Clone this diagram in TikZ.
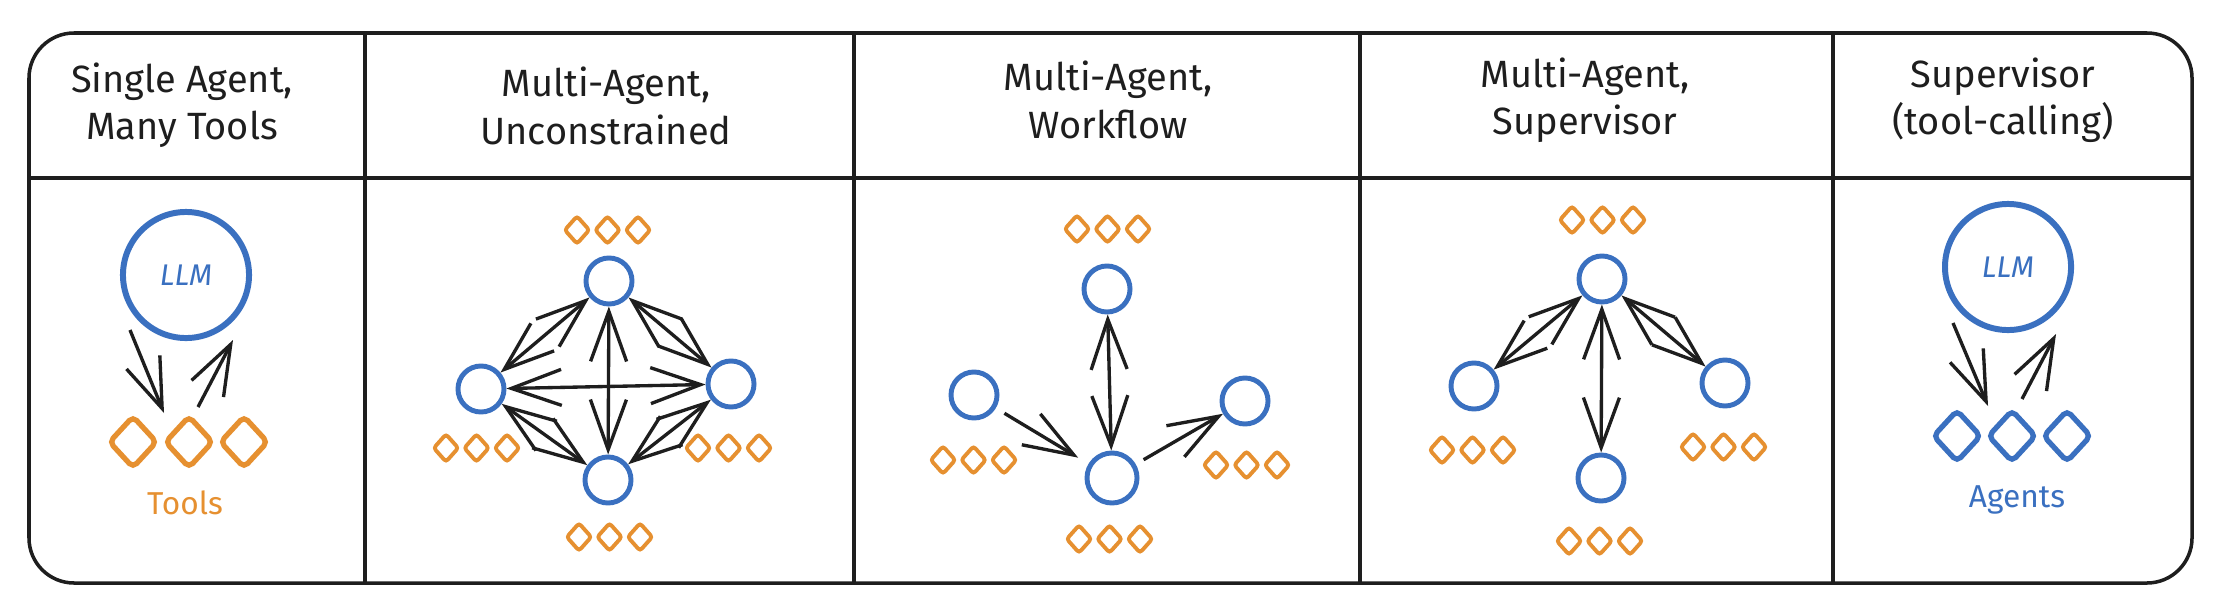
\documentclass[tikz,border=0pt]{standalone}
\usepackage{fontspec}
\setmainfont{Fira Sans}
\usetikzlibrary{shapes.geometric, arrows.meta}

\definecolor{agentblue}{HTML}{3A70C0}
\definecolor{toolorange}{HTML}{E69030}
\definecolor{inkgray}{HTML}{1E1E1E}

\tikzset{
  frame/.style={draw=inkgray, line width=1pt},
  title/.style={align=center, text=inkgray, font=\fontsize{10.8}{13.5}\selectfont},
  agent/.style={circle, draw=agentblue, line width=1.4pt, minimum size=0.46cm, inner sep=0pt},
  llm/.style={circle, draw=agentblue, line width=1.7pt, minimum size=1.26cm, inner sep=0pt,
    text=agentblue, font=\fontsize{8.5}{10}\selectfont\itshape},
  tool/.style={diamond, draw=toolorange, line width=1.1pt, minimum width=0.26cm,
    minimum height=0.29cm, inner sep=0pt, rounded corners=0.8pt},
  bigtool/.style={diamond, line width=1.5pt, minimum width=0.49cm, minimum height=0.53cm,
    inner sep=0pt, rounded corners=1.5pt},
  barb/.tip={Straight Barb[length=0.5cm, width=0.36cm]},
  arr/.style={draw=inkgray, line width=0.95pt, -barb},
  biarr/.style={arr, barb-barb},
}

\begin{document}
\begin{tikzpicture}[x=0.01cm, y=-0.01cm]
  \fill[white] (0,0) rectangle (2228,612);

  % frame and columns
  \draw[frame, rounded corners=0.45cm] (29,33) rectangle (2192,583);
  \draw[frame] (29,178) -- (2192,178);
  \foreach \x in {365,854,1360,1833}
    \draw[frame] (\x,33) -- (\x,583);

  \node[title] (head1) at (182,105) {Single Agent,\\Many Tools};
  \node[title] (head2) at (606,106) {Multi-Agent,\\Unconstrained};
  \node[title] (head3) at (1108,100) {Multi-Agent,\\Workflow};
  \node[title] (head4) at (1585,100) {Multi-Agent,\\Supervisor};
  \node[title] (head5) at (2003,100) {Supervisor\\(tool-calling)};

  % single agent, many tools
  \node[llm] (llm1) at (186,275) {LLM};
  \node[bigtool, draw=toolorange] (tool1a) at (133,442) {};
  \node[bigtool, draw=toolorange] (tool1b) at (189,442) {};
  \node[bigtool, draw=toolorange] (tool1c) at (244,442) {};
  \node[text=toolorange, font=\fontsize{9}{11}\selectfont] (tools1) at (185,503) {Tools};
  \draw[arr] ([shift={(-56,55)}]llm1.center) -- ([shift={(-25,-29)}]tool1b.center);
  \draw[arr] ([shift={(9,-35)}]tool1b.center) -- ([shift={(47,65)}]llm1.center);

  % tool rows
  \foreach \n/\x/\y in {2t/577/230, 2l/446/448, 2r/698/448, 2b/579/537,
                        3t/1077/229, 3l/943/460, 3r/1216/465, 3b/1079/539,
                        4t/1572/220, 4l/1442/450, 4r/1693/447, 4b/1569/541}
    \foreach \k in {0,1,2}
      \node[tool] (tool\n\k) at (\x+30.5*\k,\y) {};

  % multi-agent, unconstrained
  \node[agent] (a2t) at (609,281) {};
  \node[agent] (a2l) at (481,389) {};
  \node[agent] (a2r) at (731,384) {};
  \node[agent] (a2b) at (608,480) {};
  \draw[biarr] (a2t) -- (a2l);
  \draw[biarr] (a2t) -- (a2r);
  \draw[biarr] (a2t) -- (a2b);
  \draw[biarr] (a2l) -- (a2r);
  \draw[biarr] (a2l) -- (a2b);
  \draw[biarr] (a2r) -- (a2b);

  % multi-agent, workflow
  \node[agent] (a3t) at (1107,289) {};
  \node[agent] (a3l) at (974,395) {};
  \node[agent] (a3r) at (1245,401) {};
  \node[agent, minimum size=0.5cm] (a3b) at (1112,478) {};
  \draw[arr, shorten <=0.1cm, shorten >=0.12cm] (a3l) -- (a3b);
  \draw[biarr] (a3b) -- (a3t);
  \draw[arr, shorten <=0.09cm] (a3b) -- (a3r);

  % multi-agent, supervisor
  \node[agent] (a4t) at (1602,279) {};
  \node[agent] (a4l) at (1474,386) {};
  \node[agent] (a4r) at (1725,383) {};
  \node[agent] (a4b) at (1601,478) {};
  \draw[biarr] (a4t) -- (a4l);
  \draw[biarr] (a4t) -- (a4r);
  \draw[biarr] (a4t) -- (a4b);

  % supervisor (tool-calling)
  \node[llm] (llm5) at (2008,267) {LLM};
  \node[bigtool, draw=agentblue] (agt5a) at (1957,436) {};
  \node[bigtool, draw=agentblue] (agt5b) at (2012,436) {};
  \node[bigtool, draw=agentblue] (agt5c) at (2067,436) {};
  \node[text=agentblue, font=\fontsize{9}{11}\selectfont] (agents5) at (2017,500) {Agents};
  \draw[arr] ([shift={(-55,56)}]llm5.center) -- ([shift={(-24,-30)}]agt5b.center);
  \draw[arr] ([shift={(10,-37)}]agt5b.center) -- ([shift={(48,67)}]llm5.center);
\end{tikzpicture}
\end{document}
